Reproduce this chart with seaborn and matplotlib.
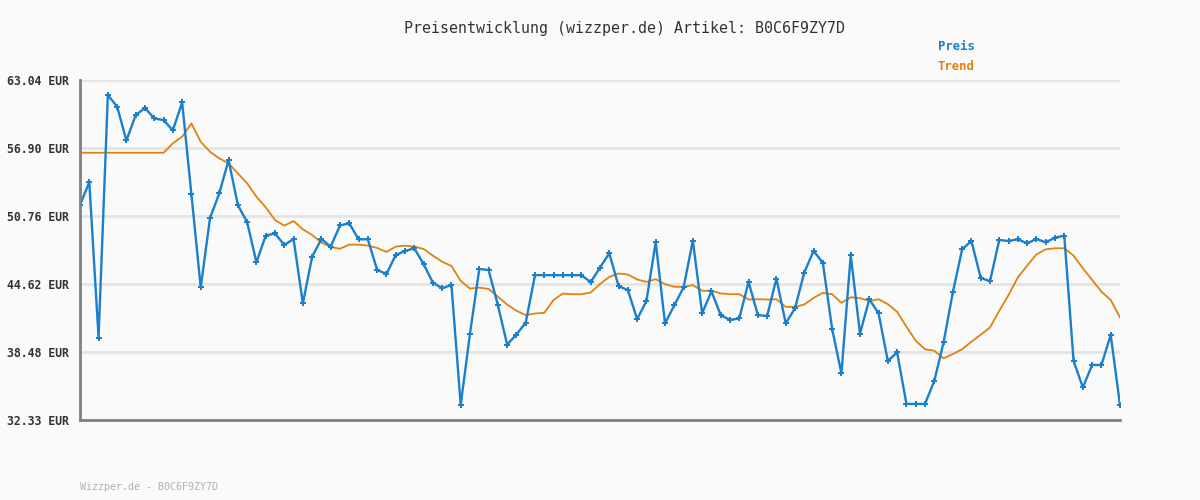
import numpy as np
import pandas as pd
import seaborn as sns
import matplotlib.pyplot as plt

preis = [51.74, 53.82, 39.78, 61.68, 60.63, 57.58, 59.87, 60.51, 59.57, 59.42,
         58.49, 61.02, 52.70, 44.30, 50.56, 52.80, 55.81, 51.74, 50.20, 46.57,
         48.98, 49.19, 48.13, 48.68, 42.86, 47.08, 48.68, 47.99, 49.91, 50.09,
         48.65, 48.65, 45.88, 45.52, 47.23, 47.59, 47.84, 46.42, 44.74, 44.23,
         44.53, 33.69, 40.14, 45.97, 45.88, 42.71, 39.14, 40.05, 41.13, 45.41,
         45.41, 45.41, 45.41, 45.41, 45.41, 44.78, 46.10, 47.38, 44.42, 44.07,
         41.44, 43.08, 48.41, 41.06, 42.68, 44.31, 48.53, 41.97, 43.95, 41.81,
         41.36, 41.51, 44.81, 41.81, 41.72, 45.11, 41.06, 42.42, 45.65, 47.61,
         46.52, 40.55, 36.54, 47.22, 40.14, 43.23, 41.97, 37.66, 38.44, 33.78,
         33.78, 33.78, 35.86, 39.34, 43.87, 47.75, 48.50, 45.16, 44.87, 48.59,
         48.50, 48.65, 48.29, 48.68, 48.38, 48.80, 48.98, 37.66, 35.28, 37.30,
         37.30, 40.01, 33.69]

trend = [56.47, 56.47, 56.47, 56.47, 56.47, 56.47, 56.47, 56.47, 56.47, 56.47,
         57.32, 57.92, 59.12, 57.46, 56.56, 55.96, 55.51, 54.61, 53.71, 52.50,
         51.54, 50.39, 49.88, 50.30, 49.55, 49.04, 48.35, 47.95, 47.80, 48.17,
         48.17, 48.08, 47.87, 47.51, 47.99, 48.08, 47.99, 47.78, 47.17, 46.63,
         46.24, 44.90, 44.20, 44.29, 44.17, 43.47, 42.76, 42.20, 41.80, 41.95,
         42.01, 43.17, 43.75, 43.69, 43.69, 43.84, 44.61, 45.26, 45.56, 45.47,
         45.02, 44.81, 45.05, 44.60, 44.36, 44.36, 44.51, 44.00, 44.00, 43.76,
         43.69, 43.69, 43.21, 43.24, 43.21, 43.24, 42.55, 42.55, 42.76, 43.36,
         43.81, 43.69, 42.91, 43.42, 43.33, 43.08, 43.24, 42.79, 42.10, 40.76,
         39.49, 38.72, 38.59, 37.90, 38.29, 38.72, 39.40, 40.04, 40.69, 42.20,
         43.62, 45.21, 46.27, 47.29, 47.75, 47.84, 47.84, 47.17, 46.03, 44.98,
         43.92, 43.17, 41.59]

y_ticks = [32.33, 38.48, 44.62, 50.76, 56.90, 63.04]
y_labels = ["32.33 EUR", "38.48 EUR", "44.62 EUR", "50.76 EUR", "56.90 EUR", "63.04 EUR"]

df = pd.DataFrame({"idx": np.arange(len(preis)), "Preis": preis, "Trend": trend})

blue = "#1b7fcc"
orange = "#e0820f"
bg = "#fafafa"

sns.set_style("white")
plt.rcParams["font.family"] = ["DejaVu Sans Mono"]

fig = plt.figure(figsize=(12, 5), dpi=100, facecolor=bg)
ax = fig.add_axes([80 / 1200, 80 / 500, 1040 / 1200, 340 / 500])
ax.set_facecolor(bg)

sns.lineplot(data=df, x="idx", y="Trend", ax=ax, color=orange, linewidth=1.3)
sns.lineplot(data=df, x="idx", y="Preis", ax=ax, color=blue, linewidth=1.7,
             marker="P", markersize=4.2, markeredgewidth=0, markerfacecolor=blue)

ax.set_xlim(0, len(preis) - 1)
ax.set_ylim(32.33, 63.04)
ax.set_yticks(y_ticks)
ax.set_yticklabels(y_labels, fontsize=8.3, fontweight="bold", color="#333333")
ax.set_xticks([])
ax.set_xlabel("")
ax.set_ylabel("")
ax.tick_params(axis="y", length=0, pad=8)
for t in y_ticks[1:]:
    ax.axhline(t, color="#e4e4e4", linewidth=2, zorder=0)

for side in ["top", "right"]:
    ax.spines[side].set_visible(False)
for side in ["left", "bottom"]:
    ax.spines[side].set_color("#808080")
    ax.spines[side].set_linewidth(2)

fig.text(624 / 1200, 1 - 28 / 500, "Preisentwicklung (wizzper.de) Artikel: B0C6F9ZY7D",
         ha="center", va="center", fontsize=10.8, color="#333333")
fig.text(938 / 1200, 1 - 47 / 500, "Preis", ha="left", va="center",
         fontsize=8.8, fontweight="bold", color=blue)
fig.text(938 / 1200, 1 - 67 / 500, "Trend", ha="left", va="center",
         fontsize=8.8, fontweight="bold", color=orange)
fig.text(80 / 1200, 1 - 487 / 500, "Wizzper.de - B0C6F9ZY7D", ha="left", va="center",
         fontsize=7.2, color="#b0b0b0")

fig.savefig("out.png", dpi=100, facecolor=bg)
